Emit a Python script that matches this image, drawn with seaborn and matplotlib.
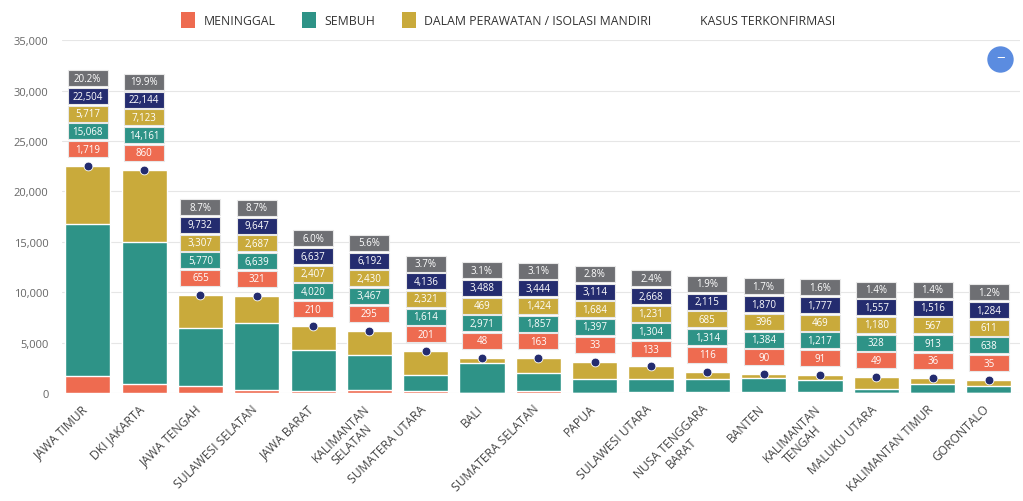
import numpy as np
import pandas as pd
import matplotlib
matplotlib.use("Agg")
import matplotlib.pyplot as plt
import matplotlib.transforms as mtransforms
from matplotlib.patches import Patch
from matplotlib.lines import Line2D
import seaborn as sns

# data
regions = ["JAWA TIMUR", "DKI JAKARTA", "JAWA TENGAH", "SULAWESI SELATAN", "JAWA BARAT",
           "KALIMANTAN\nSELATAN", "SUMATERA UTARA", "BALI", "SUMATERA SELATAN", "PAPUA",
           "SULAWESI UTARA", "NUSA TENGGARA\nBARAT", "BANTEN", "KALIMANTAN\nTENGAH",
           "MALUKU UTARA", "KALIMANTAN TIMUR", "GORONTALO"]
meninggal = [1719, 860, 655, 321, 210, 295, 201, 48, 163, 33, 133, 116, 90, 91, 49, 36, 35]
sembuh = [15068, 14161, 5770, 6639, 4020, 3467, 1614, 2971, 1857, 1397, 1304, 1314, 1384,
          1217, 328, 913, 638]
dirawat = [5717, 7123, 3307, 2687, 2407, 2430, 2321, 469, 1424, 1684, 1231, 685, 396, 469,
           1180, 567, 611]
terkonfirmasi = [22504, 22144, 9732, 9647, 6637, 6192, 4136, 3488, 3444, 3114, 2668, 2115,
                 1870, 1777, 1557, 1516, 1284]
persen = [20.2, 19.9, 8.7, 8.7, 6.0, 5.6, 3.7, 3.1, 3.1, 2.8, 2.4, 1.9, 1.7, 1.6, 1.4, 1.4, 1.2]

C_RED = "#EE6B50"
C_TEAL = "#2E9387"
C_GOLD = "#C9AA3B"
C_NAVY = "#242C6F"
C_GRAY = "#6E6F73"

df = pd.DataFrame({"region": regions, "meninggal": meninggal, "sembuh": sembuh,
                   "dirawat": dirawat, "total": terkonfirmasi, "pct": persen})
df["lvl1"] = df["meninggal"]
df["lvl2"] = df["meninggal"] + df["sembuh"]
df["lvl3"] = df["lvl2"] + df["dirawat"]

sns.set_style("white")
plt.rcParams["font.family"] = ["Open Sans", "DejaVu Sans"]

fig = plt.figure(figsize=(10.23, 5.02), dpi=100)
ax = fig.add_axes([0.061, 0.215, 0.936, 0.703])

# stacked bars: draw cumulative heights from the top layer down
sns.barplot(data=df, x="region", y="lvl3", color=C_GOLD, width=0.8, saturation=1, ax=ax, zorder=2)
sns.barplot(data=df, x="region", y="lvl2", color=C_TEAL, width=0.8, saturation=1, ax=ax, zorder=2)
sns.barplot(data=df, x="region", y="lvl1", color=C_RED, width=0.8, saturation=1, ax=ax, zorder=2)

xs = np.arange(len(regions))
ax.scatter(xs, df["total"], s=40, color=C_NAVY, edgecolor="white", linewidth=0.6, zorder=4)

# label stacks above each bar
rect = [(-1, -0.4), (1, -0.4), (1, 0.4), (-1, 0.4), (-1, -0.4)]
layers = [
    (df["meninggal"].map("{:,}".format), C_RED),
    (df["sembuh"].map("{:,}".format), C_TEAL),
    (df["dirawat"].map("{:,}".format), C_GOLD),
    (df["total"].map("{:,}".format), C_NAVY),
    (df["pct"].map("{:.1f}%".format), C_GRAY),
]
for k, (labels, col) in enumerate(layers):
    dy = 17 + k * 17.7
    tr = mtransforms.offset_copy(ax.transData, fig=fig, x=0, y=dy, units="dots")
    ax.scatter(xs, df["total"], marker=rect, s=28.5 ** 2, color=col, edgecolor="#e8e8e8",
               linewidth=0.8, transform=tr, zorder=5, clip_on=False)
    for x, t, lab in zip(xs, df["total"], labels):
        ax.annotate(lab, xy=(x, t), xytext=(0, dy), textcoords="offset pixels",
                    ha="center", va="center", fontsize=7, color="white", zorder=6,
                    annotation_clip=False)

ax.set_xlim(-0.45, 16.55)
ax.set_ylim(0, 35000)
ax.set_yticks(range(0, 35001, 5000))
ax.set_yticklabels([f"{v:,}" for v in range(0, 35001, 5000)], fontsize=8, color="#666666")
ax.yaxis.grid(True, color="#e6e6e6", linewidth=0.8, zorder=0)
ax.set_axisbelow(True)
ax.set_xlabel("")
ax.set_ylabel("")
ax.tick_params(axis="both", length=0)
ax.tick_params(axis="y", pad=10)
ax.tick_params(axis="x", pad=5)
ax.set_xticks(xs)
ax.set_xticklabels(regions, rotation=45, ha="right", rotation_mode="anchor",
                   fontsize=8.7, color="#444444", multialignment="center")
shift = mtransforms.ScaledTranslation(-6 / 100, -2 / 100, fig.dpi_scale_trans)
for lab in ax.get_xticklabels():
    lab.set_transform(lab.get_transform() + shift)
for s in ax.spines.values():
    s.set_visible(False)

handles = [Patch(facecolor=C_RED, edgecolor="none"),
           Patch(facecolor=C_TEAL, edgecolor="none"),
           Patch(facecolor=C_GOLD, edgecolor="none"),
           Patch(facecolor="none", edgecolor="none")]
names = ["MENINGGAL", "SEMBUH", "DALAM PERAWATAN / ISOLASI MANDIRI", "KASUS TERKONFIRMASI"]
fig.legend(handles, names, loc="center", bbox_to_anchor=(0.497, 0.958), ncol=4, frameon=False,
           fontsize=8.8, handlelength=1.1, handleheight=1.6, columnspacing=2.2,
           handletextpad=0.7, labelcolor="#333333")

# round "minus" button at top right
fig.add_artist(Line2D([0.978], [0.88], marker="o", markersize=19, color="#5B8CE0",
                      markeredgecolor="none", transform=fig.transFigure))
fig.text(0.978, 0.882, "\u2212", ha="center", va="center", color="white", fontsize=11)

fig.savefig("out.png", dpi=100)
